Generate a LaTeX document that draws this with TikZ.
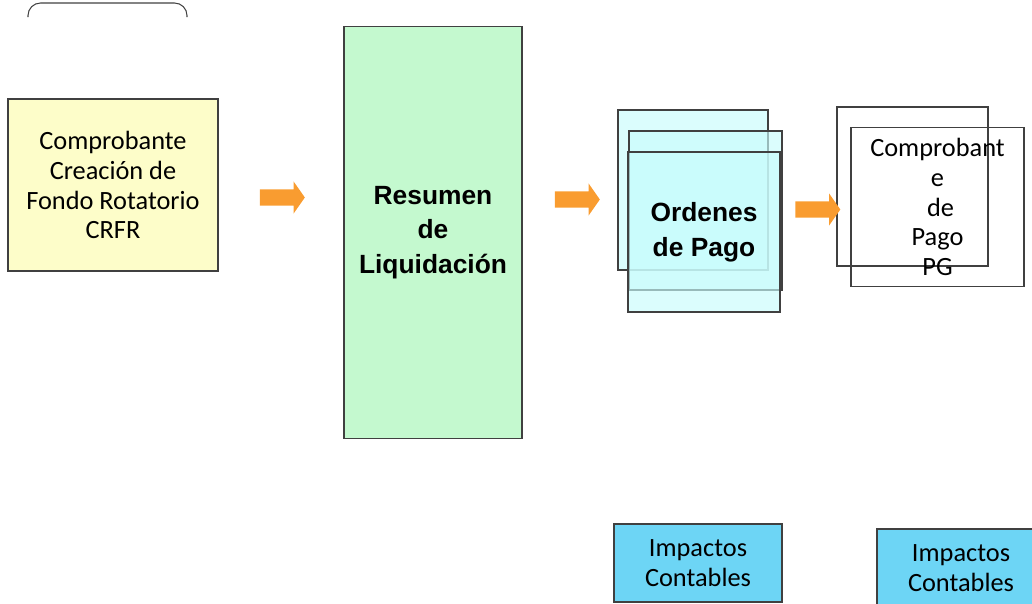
\documentclass[tikz,border=0pt]{standalone}
\usepackage{fontspec}
\setmainfont{Carlito}
\newfontfamily\negrita{Liberation Sans}
\usepackage{tikz}
\usetikzlibrary{shapes.arrows,positioning}

\definecolor{amarillo}{HTML}{FDFDC9}
\definecolor{verde}{HTML}{C4F9CF}
\definecolor{celeste}{HTML}{C8FCFC}
\definecolor{azul}{HTML}{6DD5F5}
\definecolor{naranja}{HTML}{F99C30}
\definecolor{borde}{HTML}{404040}

\begin{document}
\begin{tikzpicture}[x=0.02cm,y=-0.02cm]%
            \clip (0,0) rectangle (1032,603); %%
            \tikzstyle{caja}=[draw=borde,line width=0.6pt,inner sep=0pt,align=center,font=\fontsize{15pt}{17pt}\selectfont] %%
            \tikzstyle{grande}=[caja,font=\negrita\bfseries\fontsize{15pt}{19.8pt}\selectfont] %%
            \tikzstyle{hoja}=[caja,fill=celeste,fill opacity=0.65,text opacity=1] %%
            \tikzstyle{flecha}=[single arrow,fill=naranja,draw=none,inner xsep=0pt,inner ysep=0.155cm,minimum height=0.9cm,single arrow head extend=0.16cm,single arrow tip angle=110] %%
            % recuadro superior
            \draw[borde,line width=0.6pt,rounded corners=0.25cm] (28,17) |- (187,3) -- (187,17); %%
            % cajas
            \node[caja,fill=amarillo,minimum width=4.2cm,minimum height=3.44cm] (crfr) at (113,185) {Comprobante\\Creación de\\Fondo Rotatorio\\CRFR}; %%
            \node[grande,fill=verde,minimum width=3.56cm,minimum height=8.26cm] (resumen) at (433,232.5) {Resumen\\de\\Liquidación}; %%
            \node[hoja,minimum width=3.0cm,minimum height=3.2cm] (op1) at (693,190) {}; %%
            \node[hoja,minimum width=3.06cm,minimum height=3.18cm] (op2) at (705.5,210.5) {}; %%
            \node[hoja,grande,minimum width=3.04cm,minimum height=3.2cm] (op3) at (704,232) {\raisebox{0.08cm}{\parbox{3cm}{\centering Ordenes\\de Pago}}}; %%
            \node[caja,minimum width=3.02cm,minimum height=3.18cm] (pg1) at (912.5,186.5) {}; %%
            \node[caja,minimum width=3.46cm,minimum height=3.18cm] (pg2) at (937.5,207) {Comprobant\\e\\\ de\\Pago\\PG}; %%
            \node[caja,fill=azul,minimum width=3.36cm,minimum height=1.56cm] (imp1) at (698,563) {Impactos\\Contables}; %%
            \node[caja,fill=azul,minimum width=3.36cm,minimum height=1.56cm] (imp2) at (961,568) {Impactos\\Contables}; %%
            % flechas
            \node[flecha] (f1) at (279.5,197.5) {}; %%
            \node[flecha] (f2) at (574.5,199.5) {}; %%
            \node[flecha] (f3) at (815,209.5) {}; %%
        \end{tikzpicture}
\end{document}
